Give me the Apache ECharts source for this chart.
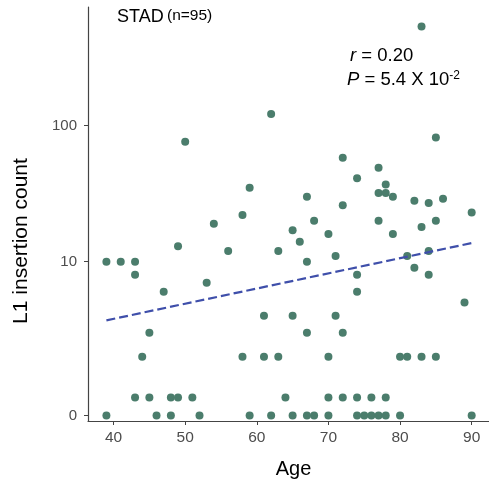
<!DOCTYPE html>
<html>
<head>
<meta charset="utf-8">
<script src="https://cdn.jsdelivr.net/npm/echarts@6/dist/echarts.min.js"></script>
<style>html,body{margin:0;padding:0;background:#fff}#chart{width:489px;height:484px}</style>
</head>
<body>
<div id="chart"></div>
<script>
// Ages (x) and L1 insertion counts (y)
const AGE = [50,83,62,85,72,77,74,78,77,78,79,82,84,86,90,59,58,67,72,68,77,85,65,83,66,70,79,63,71,67,81,84,82,84,74,74,89,39,41,43,43,47,49,53,54,56,
  45,44,58,61,65,71,67,72,
  61,63,70,80,81,83,85,
  43,45,48,49,51,64,70,72,74,76,78,
  39,46,48,52,59,62,65,67,68,70,74,75,76,77,78,80,90];
const COUNT = [76,537,122,82,58,49,41,37,32,32,30,28,27,29,23,35,22,30,26,20,20,20,17,18,14,16,16,12,11,10,11,12,9,8,8,6,5,10,10,10,8,6,13,7,19,12,
  3,2,2,4,4,4,3,3,
  2,2,2,2,2,2,2,
  1,1,1,1,1,1,1,1,1,1,1,
  0,0,0,0,0,0,0,0,0,0,0,0,0,0,0,0,0];
// fitted trend line end points
const TREND_AGE = [39, 90];
const TREND_COUNT = [3.7, 13.7];
const X_TICKS = [40, 50, 60, 70, 80, 90];
const Y_TICKS = [0, 10, 100];
const Y_TICK_LABELS = ['0', '10', '100'];
const ZERO_AT = 0.74; // where zero counts sit on the log scale

const FONT = 'Liberation Sans, Arial, Helvetica, sans-serif';
function toAxis(v) { return Math.log10(v > 0 ? v : ZERO_AT); }
const yTickPos = Y_TICKS.map(toAxis);

const chart = echarts.init(document.getElementById('chart'), null, {renderer: 'canvas'});
const axisColor = '#444444';
chart.setOption({
  animation: false,
  backgroundColor: '#ffffff',
  grid: {left: 88, right: 0, top: 7, bottom: 58, containLabel: false},
  xAxis: {
    type: 'value', min: 36.43, max: 92.42,
    name: 'Age', nameLocation: 'middle', nameGap: 38,
    nameTextStyle: {fontFamily: FONT, fontSize: 20, color: '#000', padding: [0, 0, 0, 10]},
    axisLine: {show: true, onZero: false, lineStyle: {color: axisColor, width: 1.2}},
    axisTick: {show: true, length: 4, customValues: X_TICKS, lineStyle: {color: axisColor, width: 1}},
    axisLabel: {customValues: X_TICKS, fontFamily: FONT, fontSize: 15.5, color: '#4d4d4d', margin: 9},
    splitLine: {show: false}
  },
  yAxis: {
    type: 'value', min: Math.log10(0.673), max: Math.log10(746),
    axisLine: {show: true, onZero: false, lineStyle: {color: axisColor, width: 1.2}},
    axisTick: {show: true, length: 4, customValues: yTickPos, lineStyle: {color: axisColor, width: 1}},
    axisLabel: {
      customValues: yTickPos, fontFamily: FONT, fontSize: 15, color: '#4d4d4d', margin: 11,
      formatter: function (v) {
        let best = 0;
        yTickPos.forEach((p, i) => { if (Math.abs(p - v) < Math.abs(yTickPos[best] - v)) best = i; });
        return Y_TICK_LABELS[best];
      }
    },
    splitLine: {show: false}
  },
  series: [
    {
      type: 'scatter', symbolSize: 8,
      itemStyle: {color: '#4B7D6C', opacity: 1},
      data: AGE.map((a, i) => [a, toAxis(COUNT[i])]),
      z: 2
    },
    {
      type: 'line', showSymbol: false, symbol: 'none',
      lineStyle: {color: '#3F4FAA', width: 2.2, type: [9, 4]},
      data: TREND_AGE.map((a, i) => [a, toAxis(TREND_COUNT[i])]),
      z: 3
    }
  ],
  graphic: [
    {type: 'text', x: 21, y: 241, rotation: Math.PI / 2, style: {
      text: 'L1 insertion count', fontFamily: FONT, fontSize: 21, fill: '#000',
      align: 'center', verticalAlign: 'middle'
    }},
    {type: 'text', x: 117, y: 17, style: {
      text: '{a|STAD} {b|(n=95)}', verticalAlign: 'middle',
      rich: {a: {fontFamily: FONT, fontSize: 18, fill: '#000'},
             b: {fontFamily: FONT, fontSize: 15.5, fill: '#000', padding: [0, 0, 3, 0]}}
    }},
    {type: 'text', x: 350, y: 55.5, style: {
      text: '{i|r} = 0.20', fontFamily: FONT, fontSize: 18.5, fill: '#000', verticalAlign: 'middle',
      rich: {i: {fontFamily: FONT, fontSize: 18.5, fontStyle: 'italic', fill: '#000'}}
    }},
    {type: 'text', x: 347, y: 80, style: {
      text: '{i|P} = 5.4 X 10{s|-2}', fontFamily: FONT, fontSize: 18.5, fill: '#000', verticalAlign: 'middle',
      rich: {i: {fontFamily: FONT, fontSize: 18.5, fontStyle: 'italic', fill: '#000'},
             s: {fontFamily: FONT, fontSize: 12, fill: '#000', padding: [0, 0, 9, 0]}}
    }}
  ]
});
</script>
</body>
</html>
